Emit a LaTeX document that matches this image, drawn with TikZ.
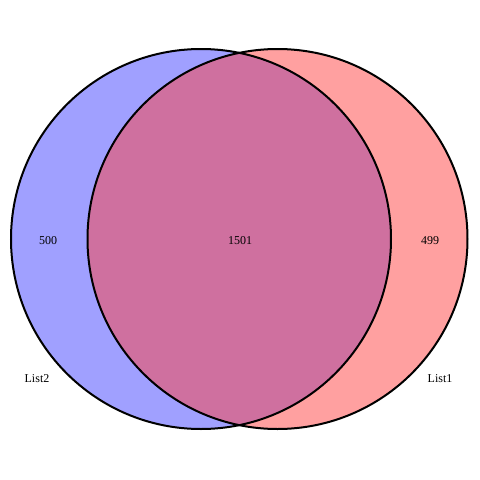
\documentclass[tikz,border=0pt]{standalone}
\usepackage{fontspec}
\setmainfont{Liberation Serif}
\definecolor{lblue}{HTML}{A0A0FF}
\definecolor{lred}{HTML}{FFA0A0}
\definecolor{lmix}{HTML}{CF709F}
\begin{document}
\begin{tikzpicture}[x=1pt,y=-1pt,
  outline/.style={draw=black,line width=2pt},
  lbl/.style={font=\fontsize{12}{14}\selectfont,inner sep=0pt}]
\useasboundingbox (0,0) rectangle (480,480);
\coordinate (cL) at (201,239);
\coordinate (cR) at (277.5,239);
\fill[lblue] (cL) circle[radius=190];
\fill[lred] (cR) circle[radius=190];
\begin{scope}
\clip (cL) circle[radius=190];
\fill[lmix] (cR) circle[radius=190];
\end{scope}
\draw[outline] (cL) circle[radius=190];
\draw[outline] (cR) circle[radius=190];
\node[lbl] (a) at (48,241) {500};
\node[lbl] (b) at (240,241) {1501};
\node[lbl] (c) at (430,241) {499};
\node[lbl] (d) at (37,379) {List2};
\node[lbl] (e) at (440,379) {List1};
\end{tikzpicture}
\end{document}
